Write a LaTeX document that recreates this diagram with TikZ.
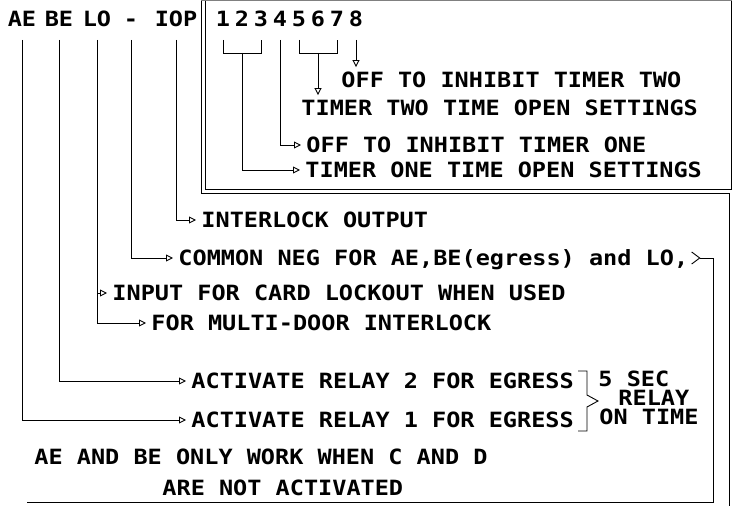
\documentclass[tikz,border=0pt]{standalone}
\usepackage{fontspec}
\newfontfamily\plotfont[FakeStretch=1.12]{DejaVu Sans Mono}
\usetikzlibrary{arrows.meta}

\begin{document}
\begin{tikzpicture}[
  x=1pt, y=-1pt,
  line width=0.9pt,
  lbl/.style={inner sep=0pt, text height=15pt, text depth=0pt,
              font={\plotfont\bfseries\fontsize{21}{24}\selectfont}},
  hd/.style={lbl, inner ysep=13pt},
  txt/.style={lbl, anchor=west},
  arr/.style={-{Triangle[open, length=7pt, width=7pt]}, shorten >=5pt}
]
\useasboundingbox (0,0) rectangle (732,506);

% header, terminal names
\node[hd] (ae)   at (22,19)  {AE};
\node[hd] (be)   at (59,19)  {BE};
\node[hd] (lo)   at (97,19)  {LO};
\node[hd] (dash) at (131,19) {-};
\node[hd] (iop)  at (176,19) {IOP};
\foreach \i in {1,...,8}
  \node[hd] (d\i) at ({204+19*\i},19) {\i};

% switch texts
\node[txt] (t1) at (341,80)  {OFF TO INHIBIT TIMER TWO};
\node[txt] (t2) at (301,108) {TIMER TWO TIME OPEN SETTINGS};
\node[txt] (t3) at (306,145) {OFF TO INHIBIT TIMER ONE};
\node[txt] (t4) at (305,170) {TIMER ONE TIME OPEN SETTINGS};

% terminal texts
\node[txt] (il) at (201,220) {INTERLOCK OUTPUT};
\node[txt] (cn) at (178,258) {COMMON NEG FOR AE,BE(egress) and LO,};
\node[txt] (in) at (112,293) {INPUT FOR CARD LOCKOUT WHEN USED};
\node[txt] (mu) at (151,323) {FOR MULTI-DOOR INTERLOCK};
\node[txt] (a2) at (191,381) {ACTIVATE RELAY 2 FOR EGRESS};
\node[txt] (a1) at (191,420) {ACTIVATE RELAY 1 FOR EGRESS};
\node[txt] (sec)    at (598,379) {5 SEC};
\node[txt] (relay)  at (618,398) {RELAY};
\node[txt] (ontime) at (599,417) {ON TIME};
\node[txt] (note1) at (34,457)  {AE AND BE ONLY WORK WHEN C AND D};
\node[txt] (note2) at (162,488) {ARE NOT ACTIVATED};

% frames
\draw[gray, line width=0.6pt] (201,0.5) -- (731.5,0.5);
\draw (201,0.5) -- (201,193) -- (729,193) -- (729,506);
\draw (205,0.5) -- (205,189) -- (731.5,189) -- (731.5,0.5);

% switch leads
\draw (d1.south) -- ++(0,13) -| (d3.south);
\draw[arr] ([yshift=-13pt]d2.south) |- (t4.west);
\draw[arr] (d4.south) |- (t3.west);
\draw (d5.south) -- ++(0,13) -| (d7.south);
\draw[arr] ([yshift=-13pt]d6.south) -- (d6.south |- t2.north);
\draw[arr] (d8.south) -- (d8.south |- t1.north);

% terminal leads
\draw[arr] (iop.south) |- (il.west);
\draw[arr] (dash.south) |- (cn.west);
\draw[arr] (lo.south) |- (mu.west);
\draw[arr] (lo.south |- in.west) -- (in.west);
\draw[arr] (be.south) |- (a2.west);
\draw[arr] (ae.south) |- (a1.west);

% common lead round the bottom
\draw ([xshift=3pt,yshift=6pt]cn.east) -- ([xshift=11pt]cn.east) coordinate (chev)
  -- ([xshift=3pt,yshift=-6pt]cn.east);
\coordinate (br) at (713,502);
\coordinate (bl) at (27,502);
\draw (chev) -| (br) -- (bl);

% relay time brace
\draw (578,371) -- (587,371) -- (587,395) -- (598,401) -- (587,407)
  -- (587,431) -- (578,431);
\end{tikzpicture}
\end{document}
